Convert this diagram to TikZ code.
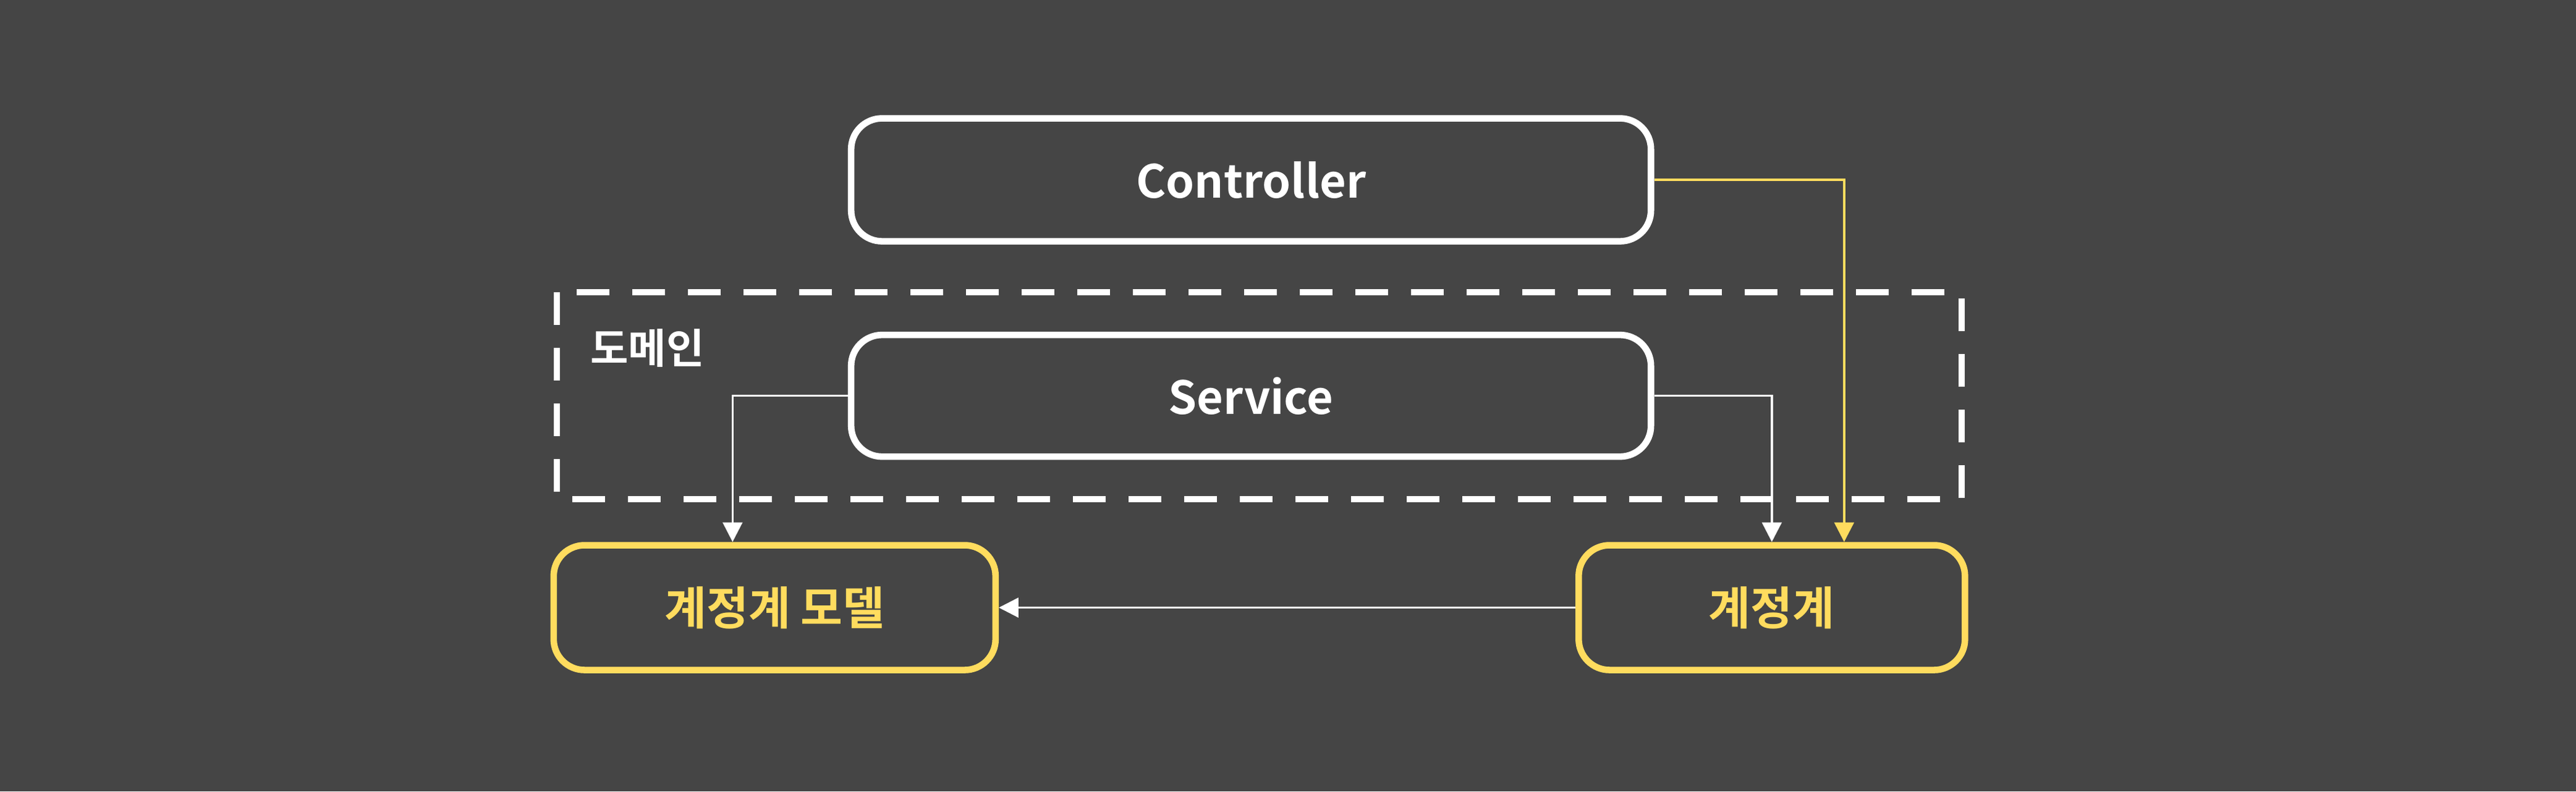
\documentclass[tikz,border=0pt]{standalone}
\usepackage{fontspec}
\setmainfont{Noto Sans CJK KR}[BoldFont={Noto Sans CJK KR Bold}]
\usetikzlibrary{arrows.meta}
\definecolor{bgcol}{HTML}{454545}
\definecolor{acctyellow}{HTML}{FFDC5E}
\tikzset{
  box/.style={draw=white,line width=3pt,rounded corners=0.5cm,text=white,font=\bfseries\fontsize{21}{25}\selectfont},
  acctbox/.style={box,draw=acctyellow,text=acctyellow},
  link/.style={draw=white,line width=1pt,-{Triangle[width=9pt,length=9pt]}},
}
\begin{document}
\begin{tikzpicture}[x=0.02658cm,y=-0.02658cm]

\fill[bgcol] (0,0) rectangle (1568,482);
\useasboundingbox (0,0) rectangle (1568,482);

\draw[white,line width=3pt,dash pattern=on 0.53cm off 0.37cm] (339,178) rectangle (1194,304);
\node[text=white,font=\bfseries\fontsize{19}{23}\selectfont] (domain) at (394,212) {도메인};

\node[box,minimum width=12.94cm,minimum height=1.99cm] (ctrl) at (761.5,109.5) {Controller};
\node[box,minimum width=12.94cm,minimum height=1.97cm] (svc) at (761.5,241) {Service};
\node[acctbox,minimum width=7.15cm,minimum height=2.02cm] (model) at (471.5,370) {계정계 모델};
\node[acctbox,minimum width=6.25cm,minimum height=2.02cm] (acct) at (1078.5,370) {계정계};

\draw[link,draw=acctyellow,-{Triangle[width=9pt,length=9pt,fill=acctyellow]}] (ctrl.east) -| ([xshift=1.17cm]acct.north);
\draw[link] (svc.west) -| ([xshift=-0.68cm]model.north);
\draw[link] (svc.east) -| (acct.north);
\draw[link] (acct.west) -- (model.east);

\end{tikzpicture}
\end{document}
